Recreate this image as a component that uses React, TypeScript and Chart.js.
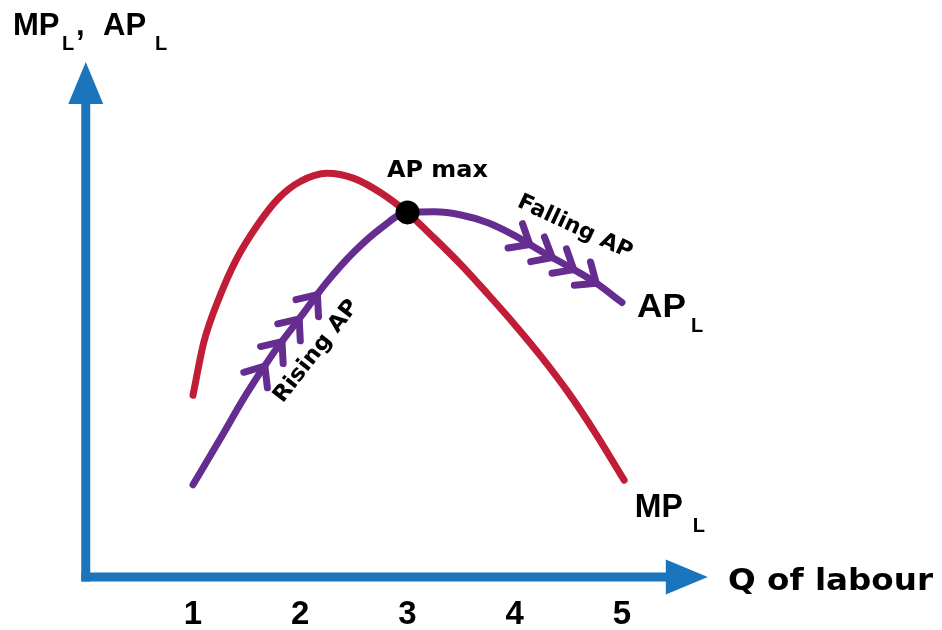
import React, { useEffect, useRef } from "react";
import { Chart, registerables } from "chart.js";

Chart.register(...registerables);

// ---- data ----
const mpQuantities = [1.0, 1.1, 1.25, 1.4, 1.6, 1.8, 2.0, 2.25, 2.5, 2.75, 3.0, 3.25, 3.5, 3.75, 4.0, 4.25, 4.5, 4.75, 5.02];
const mpValues = [3.53, 4.55, 5.45, 6.15, 6.83, 7.36, 7.68, 7.84, 7.74, 7.46, 7.07, 6.58, 6.06, 5.49, 4.9, 4.27, 3.58, 2.8, 1.88];
const apQuantities = [1.0, 1.25, 1.5, 1.75, 2.0, 2.25, 2.5, 2.75, 3.0, 3.25, 3.5, 3.75, 4.0, 4.25, 4.5, 4.75, 5.0];
const apValues = [1.79, 2.67, 3.56, 4.35, 5.04, 5.73, 6.31, 6.77, 7.08, 7.09, 7.03, 6.88, 6.63, 6.32, 6.03, 5.72, 5.33];
const xTickLabels = [1, 2, 3, 4, 5];
const apMaxQuantity = [3.0];
const apMaxValue = [7.08];
const risingArrowsAt = [1.67, 1.83, 1.99, 2.16];
const fallingArrowsAt = [4.14, 4.35, 4.55, 4.76];

const BLUE = "#1B75BC";
const RED = "#C11D36";
const PURPLE = "#662D91";

function interp(xs: number[], ys: number[], x: number) {
  for (let i = 0; i < xs.length - 1; i++) {
    if (x >= xs[i] && x <= xs[i + 1]) {
      const t = (x - xs[i]) / (xs[i + 1] - xs[i]);
      return ys[i] + t * (ys[i + 1] - ys[i]);
    }
  }
  return ys[ys.length - 1];
}

function fitText(ctx: CanvasRenderingContext2D, text: string, x: number, y: number, font: string, width: number | null, align: CanvasTextAlign = "left", baseline: CanvasTextBaseline = "alphabetic", angle = 0) {
  ctx.save();
  ctx.font = font;
  ctx.fillStyle = "#000";
  ctx.textAlign = align;
  ctx.textBaseline = baseline;
  ctx.translate(x, y);
  if (angle) ctx.rotate((angle * Math.PI) / 180);
  if (width) {
    const w = ctx.measureText(text).width;
    ctx.scale(width / w, 1);
  }
  ctx.fillText(text, 0, 0);
  ctx.restore();
}

const axesPlugin = {
  id: "arrowAxes",
  afterDraw(chart: any) {
    const { ctx, chartArea, scales } = chart;
    const x0 = scales.x.getPixelForValue(0);
    const y0 = scales.y.getPixelForValue(0);
    const xTip = chartArea.right;
    const yTip = chartArea.top;
    const lw = 9;
    const head = 42;
    const half = 17.5;
    ctx.save();
    ctx.fillStyle = BLUE;
    ctx.fillRect(x0 - lw / 2, y0 - lw / 2, xTip - head - (x0 - lw / 2) + 1, lw);
    ctx.fillRect(x0 - lw / 2, yTip + head - 1, lw, y0 + lw / 2 - (yTip + head - 1));
    ctx.beginPath();
    ctx.moveTo(xTip, y0);
    ctx.lineTo(xTip - head, y0 - half);
    ctx.lineTo(xTip - head, y0 + half);
    ctx.closePath();
    ctx.fill();
    ctx.beginPath();
    ctx.moveTo(x0, yTip);
    ctx.lineTo(x0 - half, yTip + head);
    ctx.lineTo(x0 + half, yTip + head);
    ctx.closePath();
    ctx.fill();
    ctx.restore();
  },
};

const chevronPlugin = {
  id: "chevrons",
  afterDatasetsDraw(chart: any) {
    const { ctx, scales } = chart;
    const sx = scales.x;
    const sy = scales.y;
    const at = (q: number) => ({ x: sx.getPixelForValue(q), y: sy.getPixelForValue(interp(apQuantities, apValues, q)) });
    const all = [...risingArrowsAt, ...fallingArrowsAt];
    ctx.save();
    ctx.strokeStyle = PURPLE;
    ctx.lineWidth = 7;
    ctx.lineCap = "round";
    ctx.lineJoin = "round";
    all.forEach((q) => {
      const p = at(q);
      const a = at(q - 0.03);
      const b = at(q + 0.03);
      let dx = b.x - a.x;
      let dy = b.y - a.y;
      const len = Math.hypot(dx, dy);
      dx /= len;
      dy /= len;
      const bx = -dx;
      const by = -dy;
      const ang = (40 * Math.PI) / 180;
      const L = 22;
      const r = (s: number) => ({
        x: p.x + L * (bx * Math.cos(s * ang) - by * Math.sin(s * ang)),
        y: p.y + L * (bx * Math.sin(s * ang) + by * Math.cos(s * ang)),
      });
      const e1 = r(1);
      const e2 = r(-1);
      ctx.beginPath();
      ctx.moveTo(e1.x, e1.y);
      ctx.lineTo(p.x, p.y);
      ctx.lineTo(e2.x, e2.y);
      ctx.stroke();
    });
    ctx.restore();
  },
};

const labelsPlugin = {
  id: "labels",
  afterDraw(chart: any) {
    const { ctx, scales } = chart;
    const px = (v: number) => scales.x.getPixelForValue(v);
    const py = (v: number) => scales.y.getPixelForValue(v);
    const big = "bold 31px 'Liberation Sans', Arial, sans-serif";
    const sub = "bold 20px 'Liberation Sans', Arial, sans-serif";
    const dv = (s: number) => `bold ${s}px 'DejaVu Sans', sans-serif`;
    // y-axis title
    fitText(ctx, "MP", 13, 35, big, null);
    fitText(ctx, "L", 62, 50, sub, null);
    fitText(ctx, ",", 76, 35, big, null);
    fitText(ctx, "AP", 103, 35, big, null);
    fitText(ctx, "L", 155, 50, sub, null);
    // x-axis title
    fitText(ctx, "Q of labour", 728, 590, dv(30), 205);
    // AP max
    fitText(ctx, "AP max", px(2.808), py(7.77), dv(23), 101);
    // curve labels
    const lbl = "bold 34px 'Liberation Sans', Arial, sans-serif";
    fitText(ctx, "AP", px(5.14), py(5.05), lbl, 49);
    fitText(ctx, "L", px(5.14) + 54, py(5.05) + 15, sub, null);
    fitText(ctx, "MP", px(5.12), py(1.165), lbl, 48);
    fitText(ctx, "L", px(5.12) + 58, py(1.165) + 15, sub, null);
    // rotated annotations
    fitText(ctx, "Rising AP", px(2.15), py(4.38), dv(22), 124, "center", "middle", -52);
    fitText(ctx, "Falling AP", px(4.56), py(6.79), dv(22), 124, "center", "middle", 25);
  },
};

export default function App() {
  const ref = useRef<HTMLCanvasElement>(null);
  useEffect(() => {
    const chart = new Chart(ref.current as HTMLCanvasElement, {
      type: "line",
      data: {
        datasets: [
          {
            label: "AP max",
            type: "scatter",
            data: apMaxQuantity.map((x, i) => ({ x, y: apMaxValue[i] })),
            pointRadius: 12,
            pointBackgroundColor: "#000",
            pointBorderWidth: 0,
            showLine: false,
          } as any,
          {
            label: "AP",
            data: apQuantities.map((x, i) => ({ x, y: apValues[i] })),
            borderColor: PURPLE,
            borderWidth: 7,
            pointRadius: 0,
            cubicInterpolationMode: "monotone",
            borderCapStyle: "round",
            fill: false,
          },
          {
            label: "MP",
            data: mpQuantities.map((x, i) => ({ x, y: mpValues[i] })),
            borderColor: RED,
            borderWidth: 7,
            pointRadius: 0,
            cubicInterpolationMode: "monotone",
            borderCapStyle: "round",
            fill: false,
          },
        ],
      },
      options: {
        animation: false,
        responsive: false,
        layout: { padding: { left: 85.75, right: 234.2, top: 62, bottom: 0 } },
        plugins: { legend: { display: false }, tooltip: { enabled: false } },
        scales: {
          x: {
            type: "linear",
            min: 0,
            max: 5.8,
            grid: { display: false, drawTicks: false },
            border: { display: false },
            afterBuildTicks: (s: any) => {
              s.ticks = xTickLabels.map((v) => ({ value: v }));
            },
            afterFit: (s: any) => {
              s.height = 53;
            },
            ticks: {
              autoSkip: false,
              maxRotation: 0,
              padding: 18,
              color: "#000",
              font: { family: "'Liberation Sans', Arial, sans-serif", weight: "bold", size: 33 },
            },
          },
          y: { type: "linear", min: 0, max: 10, display: false },
        },
      } as any,
      plugins: [axesPlugin, chevronPlugin, labelsPlugin],
    });
    return () => chart.destroy();
  }, []);
  return (
    <div style={{ position: "absolute", left: 0, top: 0, width: 942, height: 630, background: "#fff" }}>
      <canvas ref={ref} width={942} height={630} style={{ display: "block" }} />
    </div>
  );
}
